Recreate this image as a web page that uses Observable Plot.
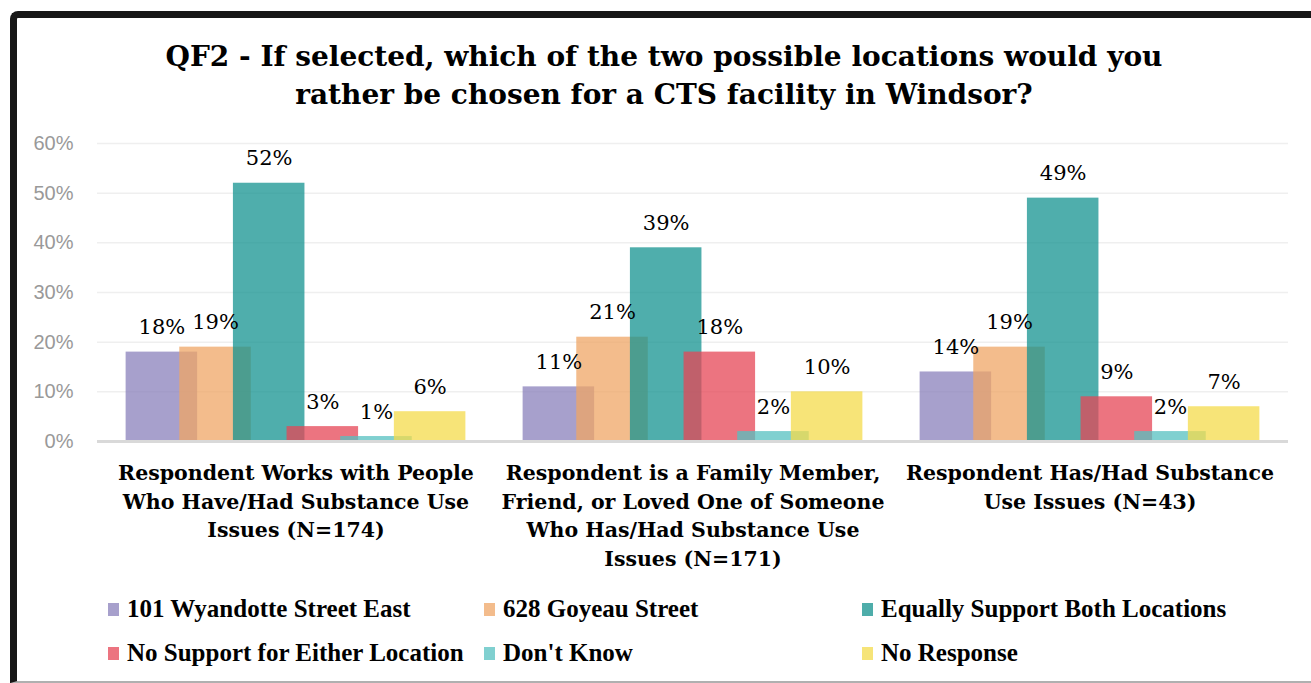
<!DOCTYPE html>
<html>
<head>
<meta charset="utf-8">
<script src="https://cdn.jsdelivr.net/npm/d3@7"></script>
<script src="https://cdn.jsdelivr.net/npm/@observablehq/plot@0.6"></script>
<style>
  html, body { margin: 0; padding: 0; background: #fff; }
  #frame {
    position: absolute; left: 10px; top: 11px; width: 1301px; height: 672px;
    box-sizing: border-box; background: #fff;
    border-left: 7px solid #171717; border-top: 7px solid #171717;
    border-bottom: 2px solid #b0b0b0; border-top-left-radius: 8px;
  }
  #title {
    position: absolute; left: 0; top: 20px; width: 1294px; text-align: center;
    font-family: "DejaVu Serif", serif;
    font-weight: bold; font-size: 28px; line-height: 38px; color: #000;
  }
  #chart { position: absolute; left: 0; top: 102px; }
  #legend {
    position: absolute; left: 0; top: 569px; padding-left: 91px;
    display: grid; grid-template-columns: 376px 378px auto; grid-auto-rows: 44px;
    font-family: "Liberation Serif", serif; font-weight: bold; font-size: 25px; color: #000;
  }
  .item { display: flex; align-items: center; white-space: nowrap; }
  .sw { width: 11px; height: 13px; margin-right: 8px; flex: none; }
  #chart svg [aria-label="y-axis tick label"] text { font-family: "Liberation Sans", sans-serif; }
  #chart svg [aria-label="fx-axis tick label"] text {
    font-family: "DejaVu Serif", serif; font-weight: bold;
  }
</style>
</head>
<body>
<div id="frame">
  <div id="title">QF2 - If selected, which of the two possible locations would you<br>rather be chosen for a CTS facility in Windsor?</div>
  <div id="chart"></div>
  <div id="legend"></div>
</div>
<script>
// ---- data ----
const groups = [
  "Respondent Works with People\nWho Have/Had Substance Use\nIssues (N=174)",
  "Respondent is a Family Member,\nFriend, or Loved One of Someone\nWho Has/Had Substance Use\nIssues (N=171)",
  "Respondent Has/Had Substance\nUse Issues (N=43)"
];
const series = [
  "101 Wyandotte Street East",
  "628 Goyeau Street",
  "Equally Support Both Locations",
  "No Support for Either Location",
  "Don't Know",
  "No Response"
];
const worksWithValues = [18, 19, 52, 3, 1, 6];
const familyValues = [11, 21, 39, 18, 2, 10];
const hasHadValues = [14, 19, 49, 9, 2, 7];
const yTicks = [0, 10, 20, 30, 40, 50, 60];
const barColors = ["#8a80bb", "#efa666", "#149390", "#e64656", "#56c0c0", "#f4db4b"];
const swatchColors = ["#a7a0cc", "#f3bc8c", "#4eadaa", "#ec7480", "#80d0d0", "#f6e478"];
const legendOrder = [0, 1, 2, 3, 4, 5];

const valuesByGroup = [worksWithValues, familyValues, hasHadValues];
const table = groups.flatMap((g, gi) => series.map((s, si) => ({
  group: g, series: s, si, value: valuesByGroup[gi][si]
})));

const step = 0.75; // bars overlap by 25%
const chart = Plot.plot({
  width: 1294,
  height: 460,
  marginLeft: 79,
  marginRight: 23,
  marginTop: 23,
  marginBottom: 139,
  style: { background: "white", overflow: "visible", fontFamily: "DejaVu Serif, serif" },
  fx: { domain: groups, padding: 0, label: null },
  x: { domain: [-0.4, 5 * step + 1 + 0.4], axis: null },
  y: { domain: [0, 60], axis: null },
  color: { domain: series, range: barColors },
  marks: [
    Plot.ruleY(yTicks.slice(1), { stroke: "#efefef", strokeWidth: 1.5 }),
    Plot.axisY({ ticks: yTicks, tickSize: 0, tickPadding: 24, tickFormat: d => d + "%",
      fontSize: 20, color: "#999999", label: null }),
    Plot.rectY(table, {
      fx: "group",
      x1: d => d.si * step,
      x2: d => d.si * step + 1,
      y: "value",
      fill: "series",
      fillOpacity: 0.75
    }),
    Plot.ruleY([0], { stroke: "#d9d9d9", strokeWidth: 3 }),
    Plot.text(table, {
      fx: "group",
      x: d => d.si * step + 0.5,
      y: "value",
      text: d => d.value + "%",
      lineAnchor: "bottom",
      dy: -18,
      fontSize: 21,
      fill: "#000"
    }),
    Plot.axisFx({ anchor: "bottom", tickSize: 0, tickPadding: 18, fontSize: 20.5,
      lineHeight: 1.4, label: null, color: "#000" })
  ]
});
document.getElementById("chart").appendChild(chart);

const legend = document.getElementById("legend");
legendOrder.forEach(i => {
  const item = document.createElement("div");
  item.className = "item";
  const sw = document.createElement("span");
  sw.className = "sw";
  sw.style.background = swatchColors[i];
  const label = document.createElement("span");
  label.textContent = series[i];
  item.appendChild(sw);
  item.appendChild(label);
  legend.appendChild(item);
});
</script>
</body>
</html>
